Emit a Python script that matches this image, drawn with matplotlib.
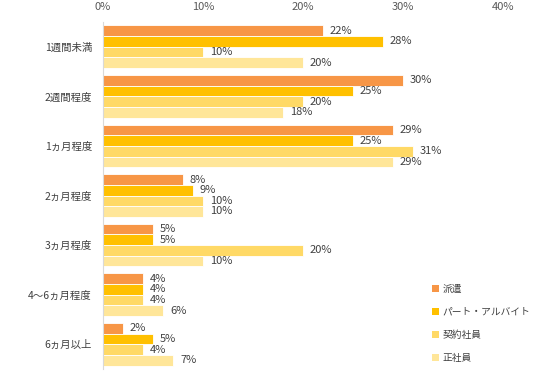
import matplotlib.pyplot as plt
from matplotlib.patches import Patch

plt.rcParams['font.family'] = ['Noto Sans CJK JP', 'DejaVu Sans']

categories = ['1週間未満', '2週間程度', '1ヵ月程度', '2ヵ月程度', '3ヵ月程度', '4～6ヵ月程度', '6ヵ月以上']
series_names = ['派遣', 'パート・アルバイト', '契約社員', '正社員']
haken = [22, 30, 29, 8, 5, 4, 2]
part = [28, 25, 25, 9, 5, 4, 5]
keiyaku = [10, 20, 31, 10, 20, 4, 4]
seishain = [20, 18, 29, 10, 10, 6, 7]
colors = ['#F79646', '#FFC000', '#FFD966', '#FFE699']
x_ticks = [0, 10, 20, 30, 40]

fig = plt.figure(figsize=(5.36, 3.72), dpi=100)
ax = fig.add_axes([103 / 536, 3 / 372, 400 / 536, 347 / 372])

h = 0.215
all_series = [haken, part, keiyaku, seishain]
for k, (vals, col) in enumerate(zip(all_series, colors)):
    ys = [i - 0.43 + h * (k + 0.5) for i in range(len(categories))]
    ax.barh(ys, vals, height=h, color=col, edgecolor='white', linewidth=0.6)
    for y, v in zip(ys, vals):
        ax.text(v + 0.7, y, f'{v}%', va='center', ha='left', fontsize=8, color='#404040')

ax.set_xlim(0, 40)
ax.set_ylim(len(categories) - 0.5, -0.5)
ax.set_yticks(range(len(categories)))
ax.set_yticklabels(categories, fontsize=7.5, color='#404040')
ax.set_xticks(x_ticks)
ax.set_xticklabels([f'{t}%' for t in x_ticks], fontsize=8, color='#595959')
ax.xaxis.tick_top()
ax.tick_params(axis='both', length=0)
ax.tick_params(axis='x', pad=7)
ax.tick_params(axis='y', pad=8)
for s in ['top', 'right', 'bottom']:
    ax.spines[s].set_visible(False)
ax.spines['left'].set_color('#D9D9D9')

handles = [Patch(facecolor=c, edgecolor='none') for c in colors]
fig.legend(handles, series_names, loc='upper left', bbox_to_anchor=(423 / 536, 1 - 275 / 372),
           frameon=False, fontsize=7, labelcolor='#404040', handlelength=0.7, handleheight=0.7,
           handletextpad=0.4, labelspacing=1.35)

fig.savefig('out.png', dpi=100)
